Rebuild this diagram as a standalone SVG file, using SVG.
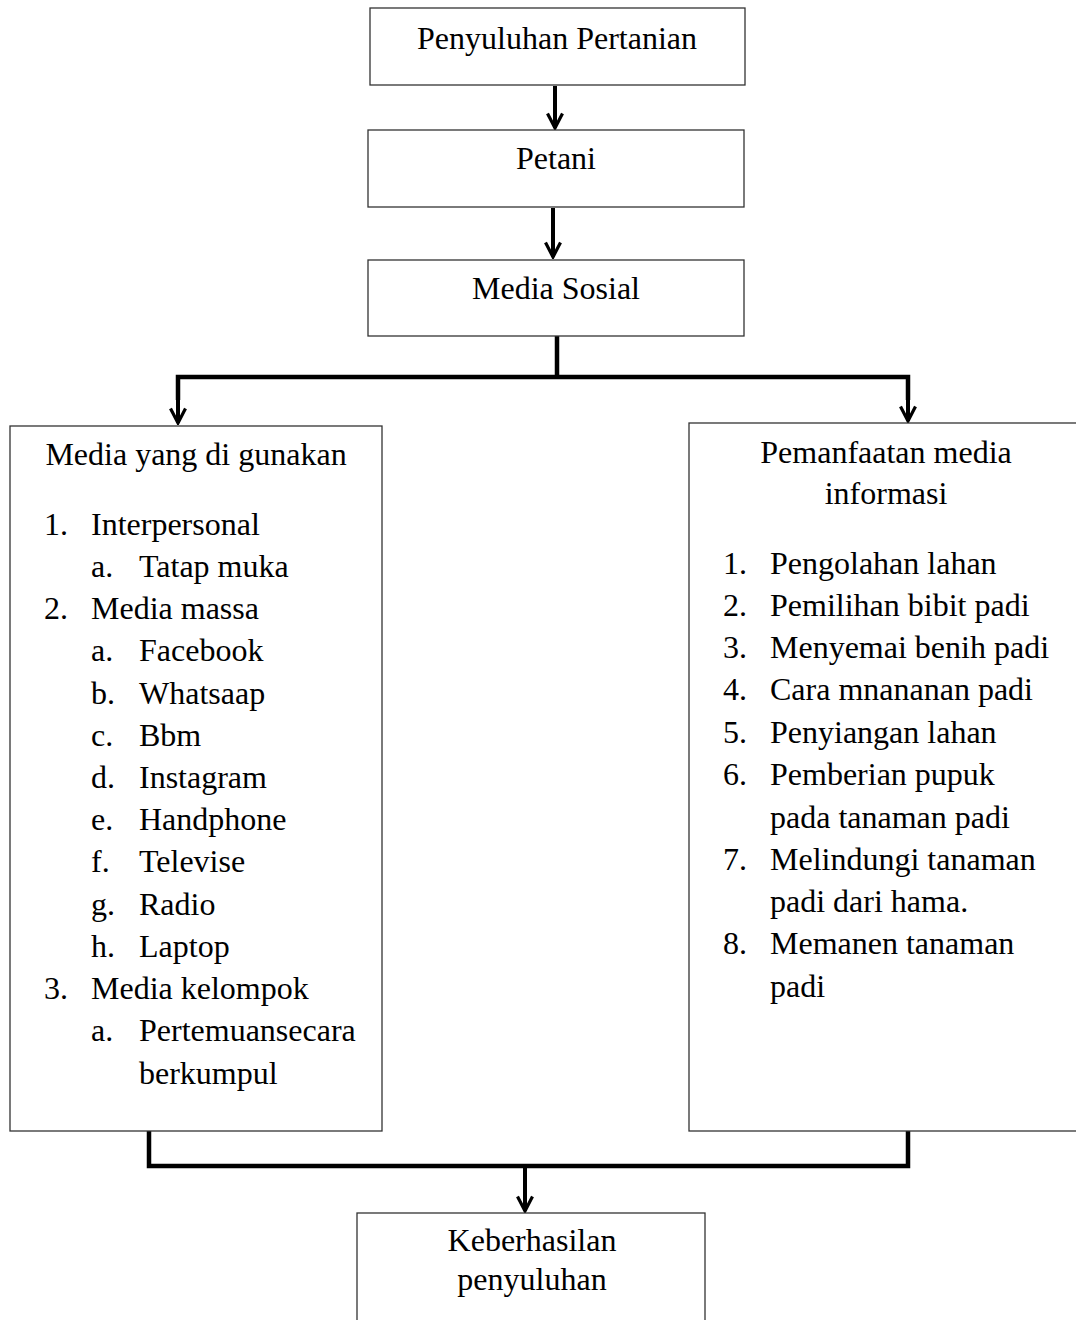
<svg xmlns="http://www.w3.org/2000/svg" width="1076" height="1320" viewBox="0 0 1076 1320">
<defs>
<marker id="ah" viewBox="0 0 18 18" refX="16" refY="9" markerWidth="18" markerHeight="18" markerUnits="userSpaceOnUse" orient="auto">
<path d="M1.5,1.5 L16,9 L1.5,16.5" fill="none" stroke="#000" stroke-width="3.2"/>
</marker>
<style>
.box{fill:#fff;stroke:#333;stroke-width:1.3}
text{font-family:"Liberation Serif","Times New Roman",serif;font-size:32px;fill:#000}
.c{text-anchor:middle}
.ln{fill:none;stroke:#000;stroke-width:4.5}
.ar{fill:none;stroke:#000;stroke-width:4}
</style>
</defs>
<rect width="1076" height="1320" fill="#fff"/>
<g id="connectors">
<line class="ar" x1="555" y1="86" x2="555" y2="128" marker-end="url(#ah)"/>
<line class="ar" x1="553" y1="208" x2="553" y2="257" marker-end="url(#ah)"/>
<polyline class="ln" points="557,336 557,377"/>
<polyline class="ln" points="178,400 178,377 908,377 908,400"/>
<line class="ar" x1="178" y1="380" x2="178" y2="423" marker-end="url(#ah)"/>
<line class="ar" x1="908" y1="380" x2="908" y2="421" marker-end="url(#ah)"/>
<polyline class="ln" points="149,1131 149,1166 908,1166 908,1131"/>
<line class="ar" x1="525" y1="1164" x2="525" y2="1211" marker-end="url(#ah)"/>
</g>
<g id="n1"><rect class="box" x="370" y="8" width="375" height="77"/><text class="c" x="557" y="49">Penyuluhan Pertanian</text></g>
<g id="n2"><rect class="box" x="368" y="130" width="376" height="77"/><text class="c" x="556" y="169">Petani</text></g>
<g id="n3"><rect class="box" x="368" y="260" width="376" height="76"/><text class="c" x="556" y="299">Media Sosial</text></g>
<g id="n4"><rect class="box" x="10" y="426" width="372" height="705"/>
<text class="c" x="196" y="465">Media yang di gunakan</text>
<text x="44" y="535">1.</text><text x="91" y="535">Interpersonal</text>
<text x="91" y="577">a.</text><text x="139" y="577">Tatap muka</text>
<text x="44" y="619">2.</text><text x="91" y="619">Media massa</text>
<text x="91" y="661">a.</text><text x="139" y="661">Facebook</text>
<text x="91" y="704">b.</text><text x="139" y="704">Whatsaap</text>
<text x="91" y="746">c.</text><text x="139" y="746">Bbm</text>
<text x="91" y="788">d.</text><text x="139" y="788">Instagram</text>
<text x="91" y="830">e.</text><text x="139" y="830">Handphone</text>
<text x="91" y="872">f.</text><text x="139" y="872">Televise</text>
<text x="91" y="915">g.</text><text x="139" y="915">Radio</text>
<text x="91" y="957">h.</text><text x="139" y="957">Laptop</text>
<text x="44" y="999">3.</text><text x="91" y="999">Media kelompok</text>
<text x="91" y="1041">a.</text><text x="139" y="1041">Pertemuansecara</text>
<text x="139" y="1084">berkumpul</text>
</g>
<g id="n5"><rect class="box" x="689" y="423" width="390" height="708"/>
<text class="c" x="886" y="463">Pemanfaatan media</text>
<text class="c" x="886" y="504">informasi</text>
<text x="723" y="574">1.</text><text x="770" y="574">Pengolahan lahan</text>
<text x="723" y="616">2.</text><text x="770" y="616">Pemilihan bibit padi</text>
<text x="723" y="658">3.</text><text x="770" y="658">Menyemai benih padi</text>
<text x="723" y="700">4.</text><text x="770" y="700">Cara mnananan padi</text>
<text x="723" y="743">5.</text><text x="770" y="743">Penyiangan lahan</text>
<text x="723" y="785">6.</text><text x="770" y="785">Pemberian pupuk</text>
<text x="770" y="828">pada tanaman padi</text>
<text x="723" y="870">7.</text><text x="770" y="870">Melindungi tanaman</text>
<text x="770" y="912">padi dari hama.</text>
<text x="723" y="954">8.</text><text x="770" y="954">Memanen tanaman</text>
<text x="770" y="997">padi</text>
</g>
<g id="n6"><rect class="box" x="357" y="1213" width="348" height="112"/>
<text class="c" x="532" y="1251">Keberhasilan</text>
<text class="c" x="532" y="1290">penyuluhan</text>
</g>
</svg>
